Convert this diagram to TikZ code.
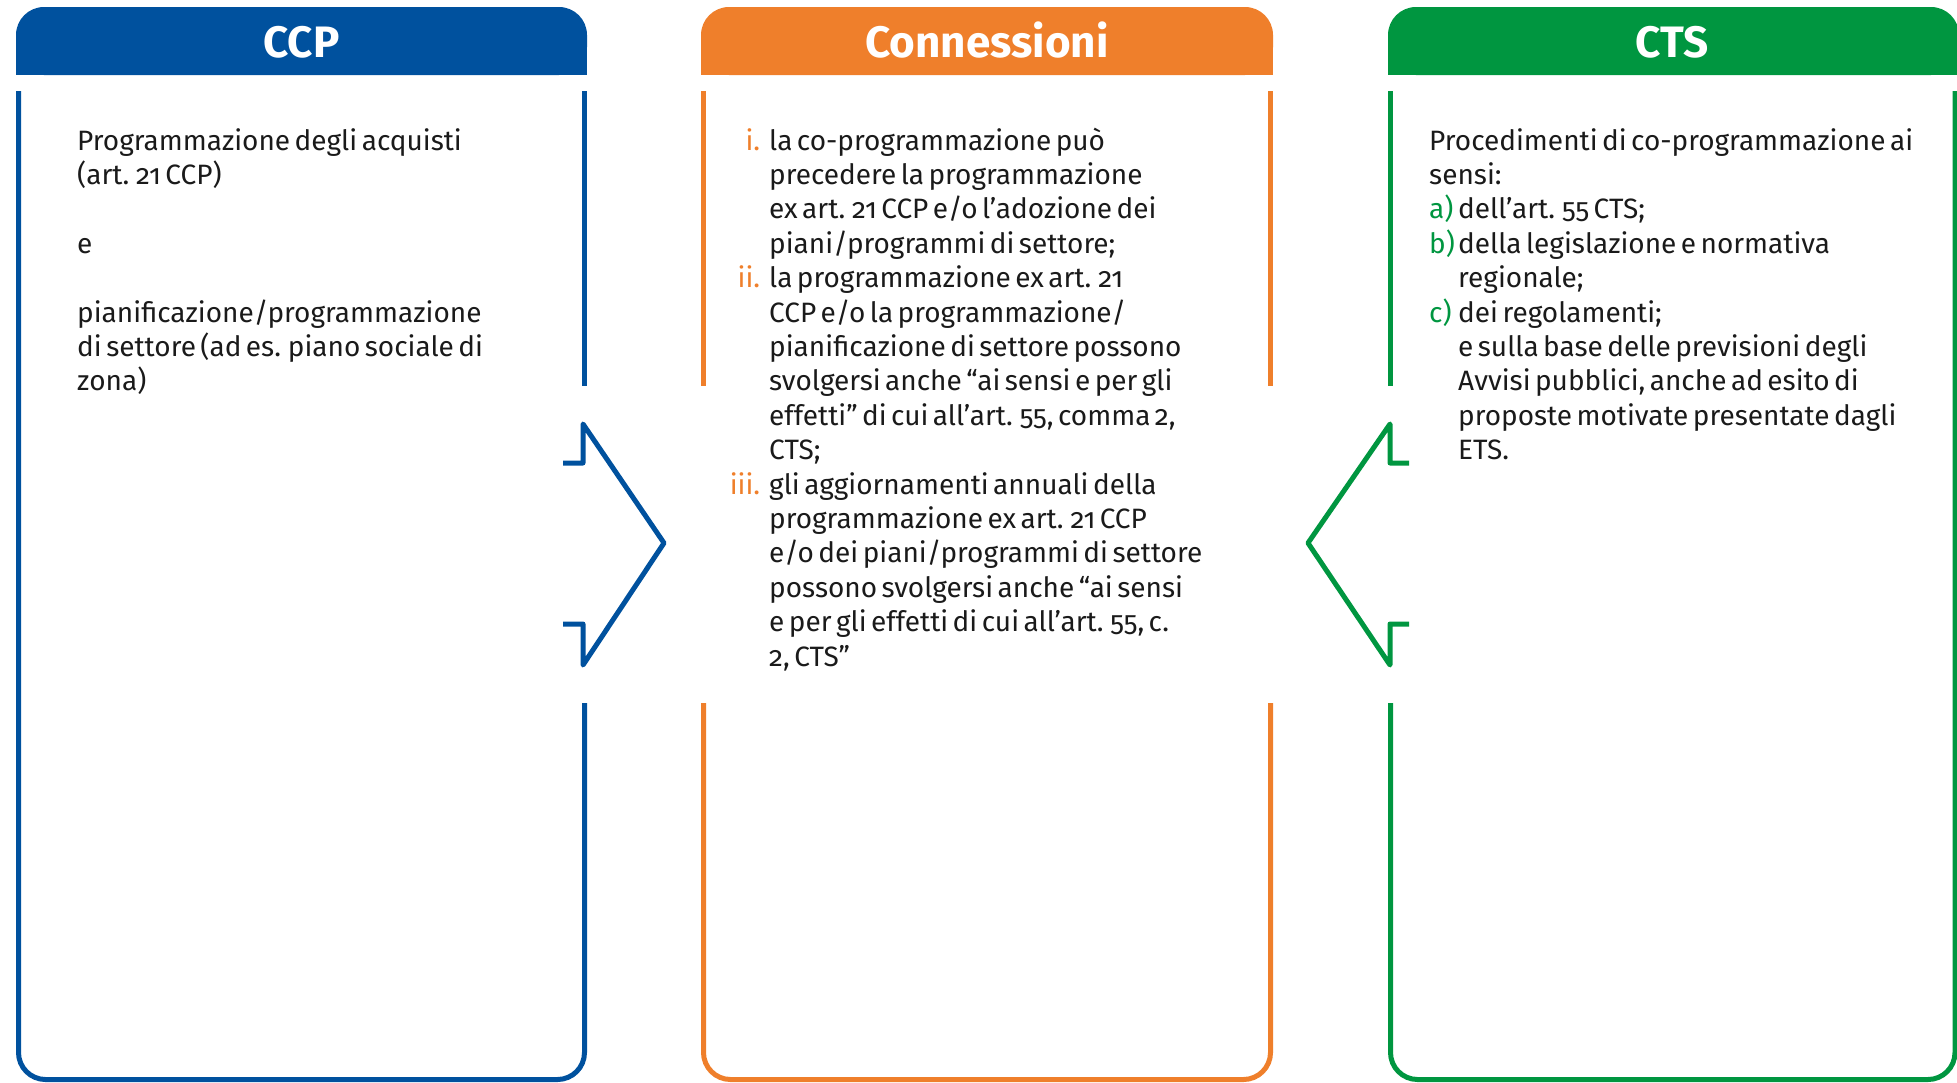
\documentclass[tikz,border=0pt]{standalone}
\usepackage{fontspec}
\setmainfont{Fira Sans}[Numbers=OldStyle, WordSpace=0.6]
\usepackage{array}
\definecolor{ccpblue}{RGB}{0,81,158}
\definecolor{conorange}{RGB}{239,127,43}
\definecolor{ctsgreen}{RGB}{0,150,64}
\definecolor{bodyink}{RGB}{26,26,26}
\newcommand{\lblO}[1]{\makebox[40pt][r]{\textcolor{conorange}{#1}}\hspace{9pt}}
\newcommand{\lblG}[1]{\makebox[29pt][l]{\textcolor{ctsgreen}{#1}}}
\begin{document}
\begin{tikzpicture}[x=1pt,y=-1pt,
  frame/.style={line width=5pt, line cap=butt},
  arrowshape/.style={line width=5pt, line join=round, line cap=butt},
  hdrtext/.style={text=white, font=\fontsize{44}{48}\selectfont\bfseries, inner sep=0pt, anchor=base},
  bodytext/.style={inner sep=0pt, anchor=base west, text=bodyink, font=\fontsize{28}{34.4}\selectfont},
]
\useasboundingbox (0,0) rectangle (1957,1082);
\clip (0,0) rectangle (1957,1082);
% ---------- CCP ----------
\fill[ccpblue, rounded corners=28pt] (16,7) rectangle (587,75);
\fill[ccpblue] (16,45) rectangle (587,75);
\node[hdrtext] (ccph) at (301.5,57) {CCP};
\draw[frame, ccpblue] (584.5,91) -- (584.5,386);
\draw[frame, ccpblue, rounded corners=27pt] (18.5,91) -- (18.5,1079.5) -- (584.5,1079.5) -- (584.5,703);
\draw[arrowshape, ccpblue] (563,463) -- (583,463) -- (583,424) -- (664,543) -- (583,665) -- (583,624) -- (563,624);
\node[bodytext] (ccpt) at (77,150) {\begin{tabular}[t]{@{}l@{}}
Programmazione degli acquisti\\
(art. 21 CCP)\\
\\
e\\
\\
pianificazione/programmazione\\
di settore (ad es. piano sociale di\\
zona)
\end{tabular}};
% ---------- Connessioni ----------
\fill[conorange, rounded corners=28pt] (701,7) rectangle (1273,75);
\fill[conorange] (701,45) rectangle (1273,75);
\node[hdrtext] (conh) at (987,57) {Connessioni};
\draw[frame, conorange] (703.5,91) -- (703.5,386);
\draw[frame, conorange] (1270.5,91) -- (1270.5,386);
\draw[frame, conorange, rounded corners=27pt] (703.5,703) -- (703.5,1079.5) -- (1270.5,1079.5) -- (1270.5,703);
\node[bodytext] (cont) at (720,150) {\begin{tabular}[t]{@{}l@{}l@{}}
\lblO{i.} & la co-programmazione può\\
 & precedere la programmazione\\
 & ex art. 21 CCP e/o l’adozione dei\\
 & piani/programmi di settore;\\
\lblO{ii.} & la programmazione ex art. 21\\
 & CCP e/o la programmazione/\\
 & pianificazione di settore possono\\
 & svolgersi anche “ai sensi e per gli\\
 & effetti” di cui all’art. 55, comma 2,\\
 & CTS;\\
\lblO{iii.} & gli aggiornamenti annuali della\\
 & programmazione ex art. 21 CCP\\
 & e/o dei piani/programmi di settore\\
 & possono svolgersi anche “ai sensi\\
 & e per gli effetti di cui all’art. 55, c.\\
 & 2, CTS”
\end{tabular}};
% ---------- CTS ----------
\fill[ctsgreen, rounded corners=28pt] (1388,7) rectangle (1959,75);
\fill[ctsgreen] (1388,45) rectangle (1959,75);
\node[hdrtext] (ctsh) at (1672,57) {CTS};
\draw[frame, ctsgreen] (1390.5,91) -- (1390.5,386);
\draw[frame, ctsgreen, rounded corners=27pt] (1390.5,703) -- (1390.5,1079.5) -- (1955,1079.5) -- (1955,91);
\draw[arrowshape, ctsgreen] (1409,463) -- (1390,463) -- (1390,424) -- (1308,543) -- (1390,665) -- (1390,624) -- (1409,624);
\node[bodytext] (ctst) at (1429,150) {\begin{tabular}[t]{@{}l@{}l@{}}
\multicolumn{2}{@{}l@{}}{Procedimenti di co-programmazione ai}\\
\multicolumn{2}{@{}l@{}}{sensi:}\\
\lblG{a)} & dell’art. 55 CTS;\\
\lblG{b)} & della legislazione e normativa\\
 & regionale;\\
\lblG{c)} & dei regolamenti;\\
 & e sulla base delle previsioni degli\\
 & Avvisi pubblici, anche ad esito di\\
 & proposte motivate presentate dagli\\
 & ETS.
\end{tabular}};
\end{tikzpicture}
\end{document}
